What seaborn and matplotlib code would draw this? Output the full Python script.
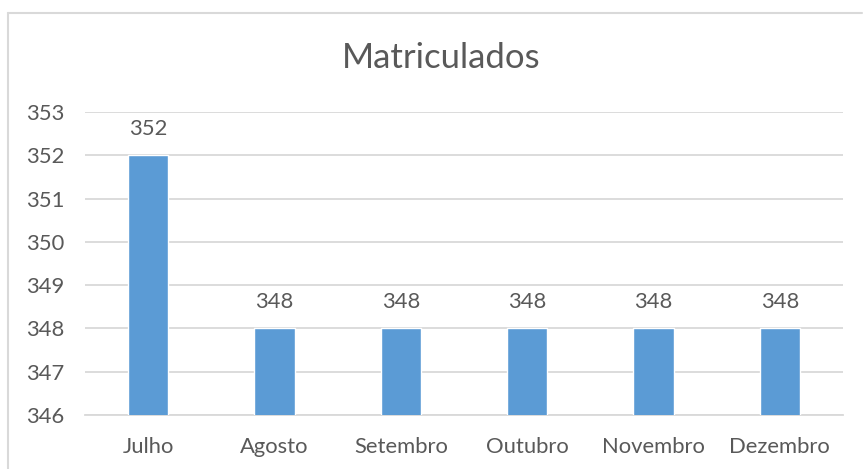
import matplotlib
matplotlib.use("Agg")
import matplotlib.pyplot as plt
import seaborn as sns
import pandas as pd
from matplotlib.lines import Line2D

meses = ["Julho", "Agosto", "Setembro", "Outubro", "Novembro", "Dezembro"]
matriculados = [352, 348, 348, 348, 348, 348]
yticks = [346, 347, 348, 349, 350, 351, 352, 353]
titulo = "Matriculados"

df = pd.DataFrame({"mes": meses, "valor": matriculados})

sns.set_theme(style="white")
plt.rcParams["font.family"] = ["Lato", "DejaVu Sans"]

W, H = 863, 469
fig = plt.figure(figsize=(W / 100, H / 100), dpi=100)
ax = fig.add_axes([85 / W, 1 - 415 / H, (843 - 85) / W, (415 - 112) / H])

text_c = "#595959"
sns.barplot(data=df, x="mes", y="valor", color="#5B9BD5", width=0.32,
            saturation=1, ax=ax, zorder=3)
ax.set_ylim(346, 353)
ax.set_yticks(yticks)
ax.set_xlim(-0.5, len(meses) - 0.5)
ax.grid(axis="y", color="#D9D9D9", linewidth=1.3, zorder=0)
ax.set_axisbelow(True)
for s in ["left", "right", "top"]:
    ax.spines[s].set_visible(False)
ax.spines["bottom"].set_color("#D9D9D9")
ax.spines["bottom"].set_linewidth(1.3)
ax.set_xlabel("")
ax.set_ylabel("")
ax.tick_params(axis="both", length=0, labelsize=15.8, colors=text_c)
ax.tick_params(axis="x", pad=16)
ax.tick_params(axis="y", pad=15)

for c in ax.containers:
    ax.bar_label(c, labels=[str(v) for v in matriculados], padding=12,
                 fontsize=15.8, color=text_c)

fig.text(441 / W, 1 - 58 / H, titulo, ha="center", va="center",
         fontsize=25, color=text_c)

# chart border (left and top)
fig.add_artist(Line2D([8 / W, 8 / W], [0, 1 - 13 / H], color="#D9D9D9",
                      linewidth=1.5, transform=fig.transFigure))
fig.add_artist(Line2D([8 / W, 862 / W], [1 - 13 / H, 1 - 13 / H],
                      color="#D9D9D9", linewidth=1.5,
                      transform=fig.transFigure))

fig.savefig("out.png", dpi=100)
